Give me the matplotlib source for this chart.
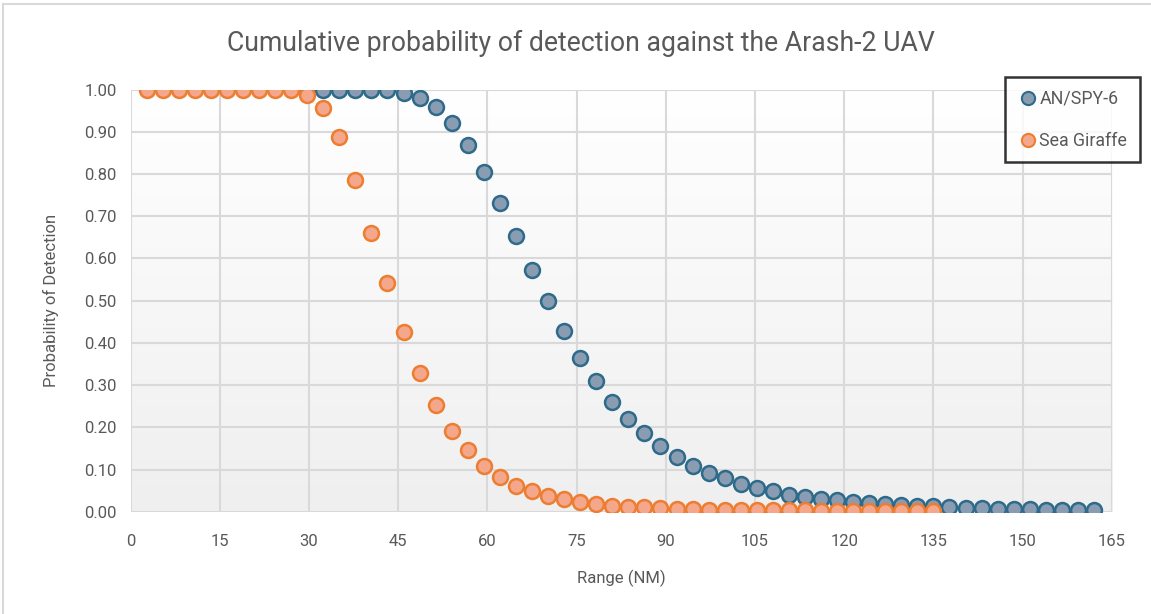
import matplotlib.pyplot as plt
import numpy as np
from matplotlib.lines import Line2D

plt.rcParams['font.family'] = ['Roboto', 'DejaVu Sans']

# range step is 5 km = 2.7 NM
step_nm = 2.7

spy6_idx = list(range(11, 61))
spy6_pd = [1.000, 1.000, 1.000, 1.000, 0.999, 0.998, 0.993, 0.981, 0.960, 0.922,
           0.869, 0.804, 0.731, 0.653, 0.572, 0.499, 0.427, 0.365, 0.310, 0.261,
           0.220, 0.186, 0.156, 0.130, 0.108, 0.092, 0.079, 0.066, 0.057, 0.048,
           0.040, 0.036, 0.030, 0.027, 0.024, 0.021, 0.018, 0.016, 0.014, 0.013,
           0.010, 0.009, 0.008, 0.007, 0.006, 0.006, 0.005, 0.004, 0.004, 0.004]

giraffe_idx = list(range(1, 51))
giraffe_pd = [1.000, 1.000, 1.000, 1.000, 1.000, 1.000, 1.000, 1.000, 1.000, 1.000,
              0.987, 0.956, 0.887, 0.786, 0.661, 0.541, 0.425, 0.329, 0.253, 0.192,
              0.146, 0.109, 0.083, 0.062, 0.049, 0.037, 0.030, 0.024, 0.018, 0.014,
              0.012, 0.010, 0.008, 0.007, 0.006, 0.005, 0.005, 0.004, 0.004, 0.003,
              0.003, 0.003, 0.002, 0.002, 0.002, 0.002, 0.001, 0.001, 0.001, 0.001]

spy6_x = [i * step_nm for i in spy6_idx]
giraffe_x = [i * step_nm for i in giraffe_idx]

grey = '#595959'

fig = plt.figure(figsize=(11.51, 6.14), dpi=100)
ax = fig.add_axes([0.1134, 0.1666, 0.8526, 0.6874])

# light vertical gradient behind the plot
grad = np.linspace(1, 0, 256).reshape(-1, 1)
ax.imshow(grad, extent=[0, 1, 0, 1], transform=ax.transAxes, aspect='auto',
          cmap=plt.matplotlib.colors.LinearSegmentedColormap.from_list('bg', ['#efefef', '#ffffff']),
          zorder=0, interpolation='bicubic')

ax.scatter(spy6_x, spy6_pd, s=115, facecolor='#8a9cb2', edgecolor='#2e6b8a',
           linewidth=1.8, zorder=3, label='AN/SPY-6')
ax.scatter(giraffe_x, giraffe_pd, s=115, facecolor='#f4a78a', edgecolor='#ed7d31',
           linewidth=1.8, zorder=3, label='Sea Giraffe')

ax.set_xlim(0, 165)
ax.set_ylim(0, 1.0)
ax.set_xticks(np.arange(0, 166, 15))
ax.set_yticks(np.arange(0, 1.01, 0.1))
ax.set_yticklabels([f'{v:.2f}' for v in np.arange(0, 1.01, 0.1)])
ax.grid(True, color='#d9d9d9', linewidth=1.5, zorder=1)
ax.set_axisbelow(True)
for s in ax.spines.values():
    s.set_visible(False)
ax.tick_params(length=0, labelsize=12, colors=grey, pad=10)
ax.tick_params(axis='x', pad=16)

ax.set_xlabel('Range (NM)', fontsize=12, color=grey, labelpad=15)
ax.set_ylabel('Probability of Detection', fontsize=12, color=grey, labelpad=18)
fig.suptitle('Cumulative probability of detection against the Arash-2 UAV',
             x=0.505, y=0.952, fontsize=19.2, color=grey)

handles = [Line2D([], [], marker='o', linestyle='', markersize=9.5, markerfacecolor='#8a9cb2',
                  markeredgecolor='#2e6b8a', markeredgewidth=1.5),
           Line2D([], [], marker='o', linestyle='', markersize=9.5, markerfacecolor='#f4a78a',
                  markeredgecolor='#ed7d31', markeredgewidth=1.5)]
leg = fig.legend(handles, ['AN/SPY-6', 'Sea Giraffe'], loc='upper left',
                 bbox_to_anchor=(0.873, 0.874), fontsize=12.8, frameon=True, fancybox=False,
                 edgecolor='black', labelspacing=1.35, handletextpad=0.05, borderpad=0.7,
                 handlelength=1.2, labelcolor=grey, borderaxespad=0)
leg.get_frame().set_linewidth(1.8)

# chart area border (top and left visible)
fig.add_artist(Line2D([0.003, 1], [0.993, 0.993], color='#d9d9d9', lw=1.5))
fig.add_artist(Line2D([0.003, 0.003], [0, 0.993], color='#d9d9d9', lw=1.5))

fig.savefig('out.png', dpi=100)
